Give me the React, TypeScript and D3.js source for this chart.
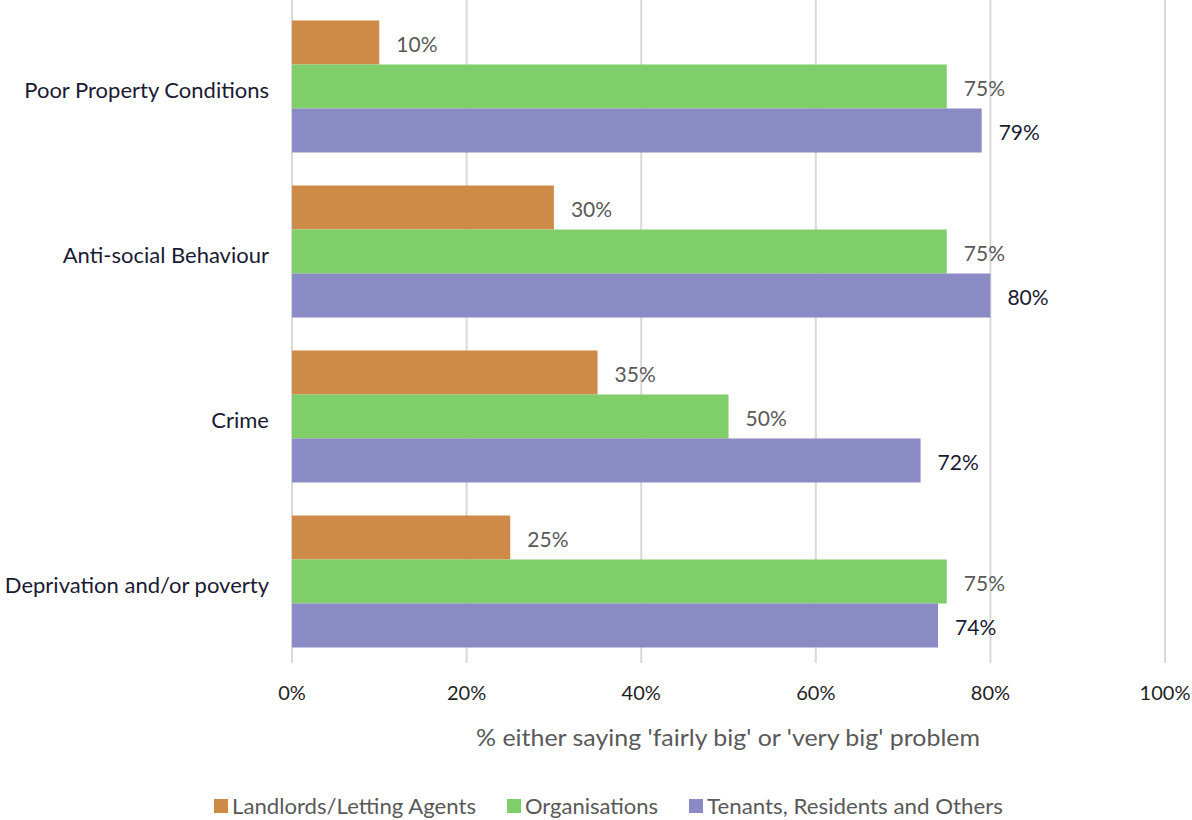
import React from "react";
import * as d3 from "d3";

const categories = ["Poor Property Conditions", "Anti-social Behaviour", "Crime", "Deprivation and/or poverty"];
const seriesNames = ["Landlords/Letting Agents", "Organisations", "Tenants, Residents and Others"];
const landlords = [10, 30, 35, 25];
const organisations = [75, 75, 50, 75];
const tenants = [79, 80, 72, 74];
const xTicks = [0, 20, 40, 60, 80, 100];
const colors = ["#CE8B47", "#7FCE6A", "#8A8AC4"];
const labelColors = ["#595959", "#595959", "#1a1a33"];
const axisTitle = "% either saying 'fairly big' or 'very big' problem";

const W = 1192, H = 820;
const FONT = "Lato, 'Open Sans', sans-serif";

export default function App() {
  const series = [landlords, organisations, tenants];
  const x = d3.scaleLinear().domain([0, 100]).range([292, 1165]);
  const y = d3.scaleBand().domain(categories).range([4, 664]).paddingInner(0.2).paddingOuter(0.1);
  const inner = d3.scaleBand().domain(seriesNames).range([0, y.bandwidth()]);

  const legendItems = [
    { name: seriesNames[0], x: 214, len: 244 },
    { name: seriesNames[1], x: 507, len: 133 },
    { name: seriesNames[2], x: 689, len: 296 },
  ];

  return (
    <svg width={W} height={H} style={{ display: "block", position: "absolute", left: 0, top: 0 }} fontFamily={FONT}>
      <rect width={W} height={H} fill="#fff" />
      {xTicks.map((t) => (
        <g key={t}>
          <line x1={x(t)} x2={x(t)} y1={0} y2={663} stroke="#d9d9d9" strokeWidth={2} />
          <text x={x(t)} y={700} textAnchor="middle" fontSize={20} fill="#1f1f1f">{t}%</text>
        </g>
      ))}
      {categories.map((c, ci) => (
        <g key={c}>
          <text x={269} y={(y(c) as number) + y.bandwidth() / 2 + 11} textAnchor="end" fontSize={22} fill="#1a1a33">{c}</text>
          {series.map((vals, si) => {
            const by = (y(c) as number) + (inner(seriesNames[si]) as number);
            return (
              <g key={si}>
                <rect x={x(0)} y={by} width={x(vals[ci]) - x(0)} height={inner.bandwidth()} fill={colors[si]} />
                <text x={x(vals[ci]) + 17} y={by + inner.bandwidth() / 2 + 9} fontSize={21} fill={labelColors[si]}>{vals[ci]}%</text>
              </g>
            );
          })}
        </g>
      ))}
      <text x={728} y={746} textAnchor="middle" fontSize={24} fill="#595959" textLength={504} lengthAdjust="spacingAndGlyphs">{axisTitle}</text>
      {legendItems.map((l, i) => (
        <g key={l.name}>
          <rect x={l.x} y={799} width={14} height={14} fill={colors[i]} />
          <text x={l.x + 18} y={814} fontSize={21} fill="#595959" textLength={l.len} lengthAdjust="spacingAndGlyphs">{l.name}</text>
        </g>
      ))}
    </svg>
  );
}
